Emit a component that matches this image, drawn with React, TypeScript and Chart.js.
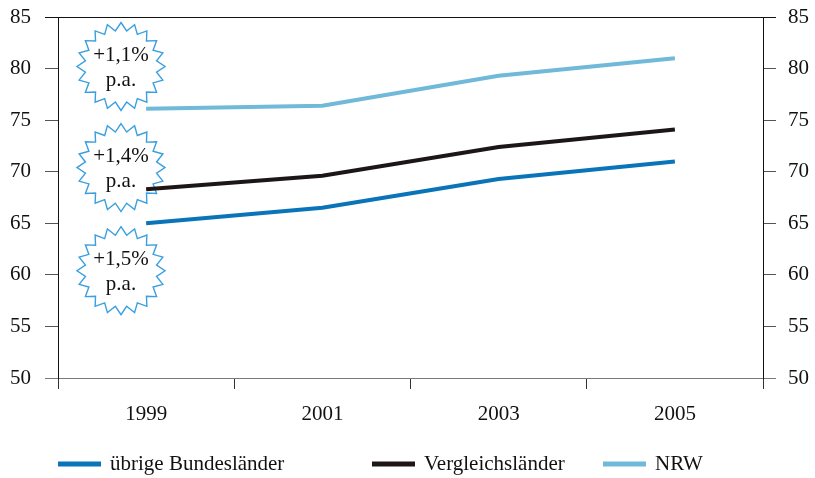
import React, { useEffect, useRef } from "react";
import { Chart, registerables } from "chart.js";

Chart.register(...registerables);

const years = ["1999", "2001", "2003", "2005"];
const uebrige = [65.0, 66.5, 69.3, 71.0];
const vergleich = [68.3, 69.6, 72.4, 74.1];
const nrw = [76.1, 76.4, 79.3, 81.0];
const seriesNames = ["übrige Bundesländer", "Vergleichsländer", "NRW"];
const seriesColors = ["#0a74b9", "#1c1618", "#70b9d9"];
const badgeTexts = ["+1,1%", "+1,4%", "+1,5%"];
const badgeValues = [80.2, 70.4, 60.4];

const FONT = '"Liberation Serif", "Times New Roman", serif';
const FS = 21;

const burstPlugin = {
  id: "bursts",
  beforeDatasetsDraw(chart: any) {
    const { ctx, chartArea, scales } = chart;
    const cx = chartArea.left + 63;
    const outer = 44;
    const inner = 36;
    const n = 20;
    badgeValues.forEach((v, i) => {
      const cy = scales.y.getPixelForValue(v);
      ctx.save();
      ctx.beginPath();
      for (let k = 0; k < n * 2; k++) {
        const r = k % 2 === 0 ? outer : inner;
        const a = -Math.PI / 2 + (k * Math.PI) / n;
        const px = cx + r * Math.cos(a);
        const py = cy + r * Math.sin(a);
        if (k === 0) ctx.moveTo(px, py);
        else ctx.lineTo(px, py);
      }
      ctx.closePath();
      ctx.fillStyle = "#ffffff";
      ctx.fill();
      ctx.lineWidth = 1.4;
      ctx.strokeStyle = "#3a9fe0";
      ctx.stroke();
      ctx.fillStyle = "#111";
      ctx.font = `${FS}px ${FONT}`;
      ctx.textAlign = "center";
      ctx.textBaseline = "middle";
      ctx.fillText(badgeTexts[i], cx, cy - 11);
      ctx.fillText("p.a.", cx, cy + 14);
      ctx.restore();
    });
  },
};

const legendPlugin = {
  id: "customLegend",
  afterDraw(chart: any) {
    const { ctx } = chart;
    const y = 464;
    const starts = [58, 372, 603];
    ctx.save();
    chart.data.datasets.forEach((ds: any, i: number) => {
      const x0 = starts[i];
      ctx.beginPath();
      ctx.moveTo(x0, y);
      ctx.lineTo(x0 + 43, y);
      ctx.lineWidth = 5;
      ctx.strokeStyle = ds.borderColor;
      ctx.stroke();
      ctx.fillStyle = "#111";
      ctx.font = `${FS}px ${FONT}`;
      ctx.textAlign = "left";
      ctx.textBaseline = "middle";
      ctx.fillText(ds.label, x0 + 52, y);
    });
    ctx.restore();
  },
};

export default function App() {
  const ref = useRef<HTMLCanvasElement | null>(null);
  useEffect(() => {
    if (!ref.current) return;
    const lineColor = (ctx: any) =>
      ctx.tick && ctx.tick.value === 85
        ? "#111"
        : ctx.tick && ctx.tick.value === 50
        ? "#7a7a7a"
        : "rgba(0,0,0,0)";
    const tickColor = (ctx: any) =>
      ctx.tick && ctx.tick.value === 85
        ? "#111"
        : ctx.tick && ctx.tick.value === 50
        ? "#7a7a7a"
        : "#555";
    const tickFont = { family: FONT, size: FS };
    const chart = new Chart(ref.current, {
      type: "line",
      data: {
        labels: years,
        datasets: [uebrige, vergleich, nrw].map((d, i) => ({
          label: seriesNames[i],
          data: d,
          borderColor: seriesColors[i],
          backgroundColor: seriesColors[i],
          borderWidth: 4,
          pointRadius: 0,
          tension: 0,
          yAxisID: "y",
        })),
      },
      options: {
        animation: false,
        responsive: false,
        maintainAspectRatio: false,
        layout: { padding: { top: 17, left: 0, right: 0, bottom: 0 } },
        plugins: { legend: { display: false }, tooltip: { enabled: false } },
        scales: {
          x: {
            type: "category",
            offset: true,
            grid: {
              offset: true,
              drawOnChartArea: false,
              tickLength: 11,
              tickColor: "#333",
              lineWidth: 1,
            },
            border: { display: false },
            ticks: { font: tickFont, color: "#111", padding: 13, maxRotation: 0 },
            afterFit: (s: any) => {
              s.height = 100;
              s.paddingLeft = 0;
              s.paddingRight = 0;
            },
          },
          y: {
            position: "left",
            min: 50,
            max: 85,
            ticks: { stepSize: 5, font: tickFont, color: "#111", padding: 14 },
            grid: {
              drawOnChartArea: true,
              color: lineColor,
              tickColor: tickColor,
              tickLength: 13,
              lineWidth: 1,
            },
            border: { display: true, color: "#111", width: 1 },
            afterFit: (s: any) => {
              s.width = 58;
              s.paddingTop = 0;
              s.paddingBottom = 0;
            },
          },
          y1: {
            position: "right",
            min: 50,
            max: 85,
            ticks: { stepSize: 5, font: tickFont, color: "#111", padding: 12 },
            grid: {
              drawOnChartArea: false,
              tickColor: tickColor,
              tickLength: 13,
              lineWidth: 1,
            },
            border: { display: true, color: "#111", width: 1 },
            afterFit: (s: any) => {
              s.width = 52;
              s.paddingTop = 0;
              s.paddingBottom = 0;
            },
          },
        },
      },
      plugins: [burstPlugin, legendPlugin],
    });
    return () => chart.destroy();
  }, []);
  return (
    <div style={{ position: "fixed", left: 0, top: 0, width: 815, height: 478, background: "#fff" }}>
      <canvas ref={ref} width={815} height={478} style={{ width: 815, height: 478 }} />
    </div>
  );
}
